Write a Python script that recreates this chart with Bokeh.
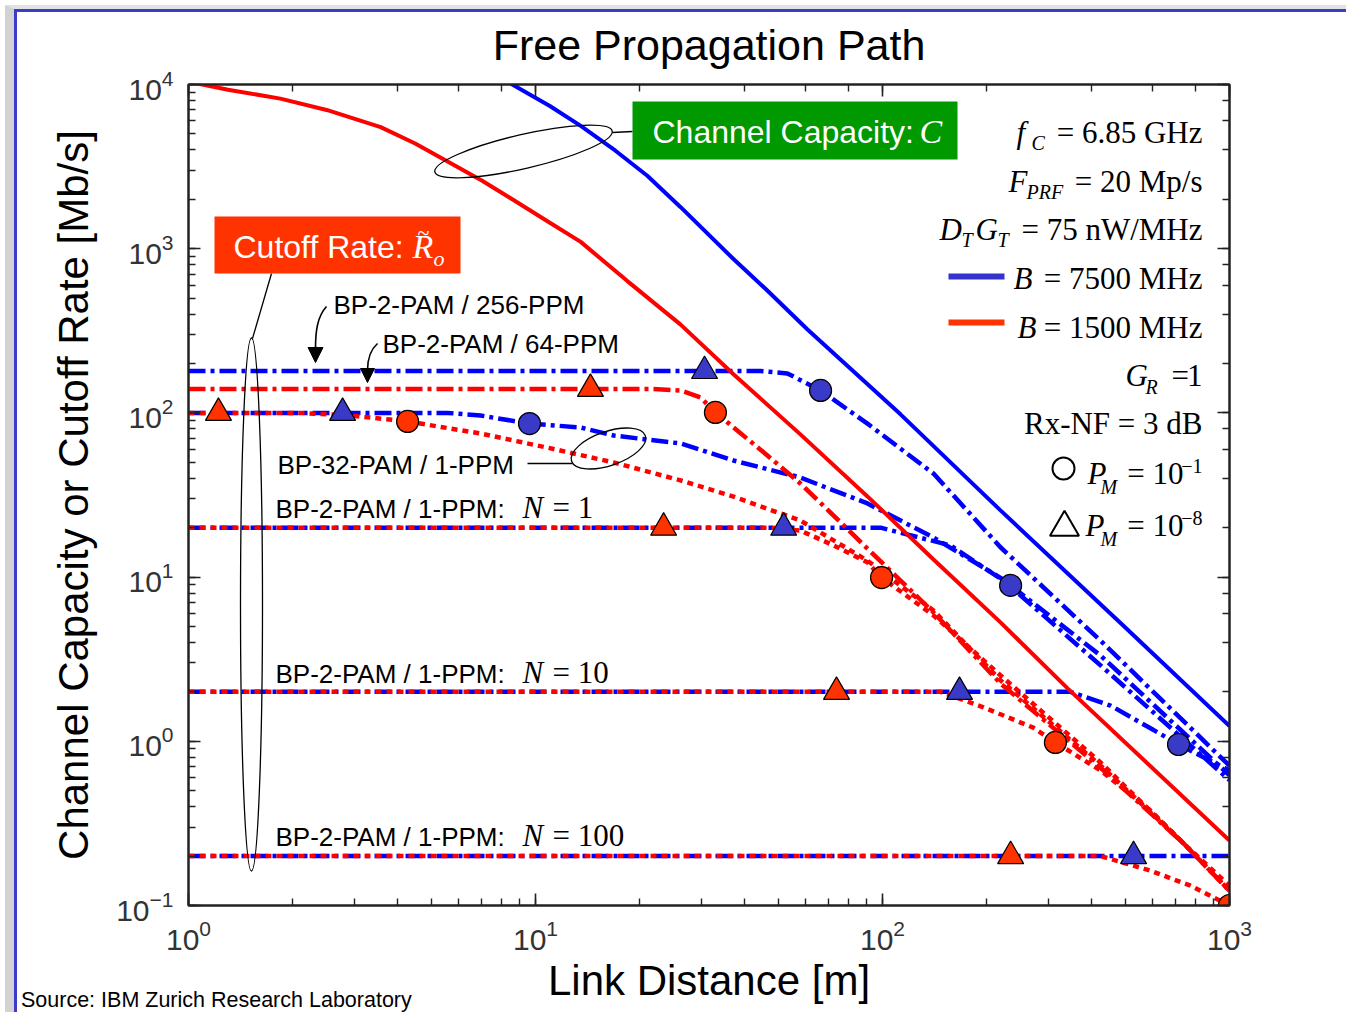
import math
from bokeh.plotting import figure
from bokeh.models import (Label, BoxAnnotation, LogAxis, LogTicker, Arrow, NormalHead, Range1d,
                          CustomJSTickFormatter, Div)
from bokeh.embed import file_html
from bokeh.resources import INLINE

# ---------------- data ----------------
# Channel capacity, B = 7500 MHz / 1500 MHz   (distance [m], rate [Mb/s])
cap_dist_7500 = [8.5, 11.0, 13.5, 17.0, 21.0, 26.2, 37.2, 46.0, 60.8, 112.7, 218.8, 500, 1000]
cap_rate_7500 = [10100, 7400, 5600, 3950, 2780, 1790, 865, 570, 322, 98, 25.5, 4.95, 1.24]
cap_dist_1500 = [1.0, 1.3, 1.84, 2.5, 3.58, 4.5, 5.58, 7.0, 8.64, 11.0, 13.5, 18.4, 26.2, 37.2, 58.0, 90.5,
                 140.3, 218.8, 341.5, 1000]
cap_rate_1500 = [10400, 9300, 8200, 7000, 5500, 4370, 3400, 2600, 1980, 1440, 1100, 635, 345, 172, 74, 31,
                 12.8, 5.3, 2.1, 0.249]

# Cutoff rate, B = 7500 MHz
b_256ppm_d = [1, 44.5, 53.2, 66.3, 90.5, 140.3, 218.8, 425, 1000]
b_256ppm_r = [180, 180, 174, 137, 86, 42.7, 15.2, 4.1, 0.71]
b_32pam_d = [1, 5.58, 6.94, 9.61, 13.5, 16.8, 26.2, 37.2, 58.0, 90.5, 140.3, 218.8, 425, 1000]
b_32pam_r = [100, 100, 96.4, 86.1, 81.5, 72.8, 65.1, 51.3, 40.4, 28.1, 17.4, 9.9, 2.9, 0.58]
b_n1_d = [1, 98.7, 157, 234, 425, 1000]
b_n1_r = [20, 20, 15.6, 8.9, 3.33, 0.62]
b_n10_d = [1, 348, 454, 592, 713, 1000]
b_n10_r = [2, 2, 1.65, 1.20, 0.956, 0.664]
b_n100_d = [1, 1000]
b_n100_r = [0.2, 0.2]

# Cutoff rate, B = 1500 MHz
r_64ppm_d = [1, 21.4, 26.2, 29.9, 33.0, 46.6, 58.0, 72.3, 90.5, 112.7, 140.3, 218.8, 425, 737, 1000]
r_64ppm_r = [140, 140, 137, 124, 100.6, 55.0, 37.2, 23.7, 14.9, 9.53, 6.09, 2.25, 0.69, 0.239, 0.123]
r_32pam_d = [1, 2.10, 2.93, 4.28, 6.94, 10.8, 16.8, 26.2, 37.2, 58.0, 90.5, 140.3, 218.8, 425, 737, 1000]
r_32pam_r = [100, 100, 96.4, 88.7, 74.9, 61.5, 49.9, 38.8, 30.9, 22.1, 12.6, 6.26, 2.35, 0.712, 0.239, 0.123]
r_n1_d = [1, 47.6, 58.0, 72.3, 90.5, 99.4, 140.3, 218.8, 425, 737, 1000]
r_n1_r = [20, 20, 19.2, 15.6, 12.3, 9.94, 5.84, 2.52, 0.743, 0.239, 0.123]
r_n10_d = [1, 147, 195.4, 272, 315, 425, 592, 737, 1000]
r_n10_r = [2, 2, 1.61, 1.21, 0.984, 0.664, 0.379, 0.239, 0.132]
r_n100_d = [1, 425, 592, 772, 1000]
r_n100_r = [0.2, 0.2, 0.163, 0.132, 0.1]

# Markers: triangle P_M = 1e-8, circle P_M = 1e-1
tri_blue_d = [30.7, 2.78, 51.9, 166.7, 529]
tri_blue_r = [180, 100, 20, 2, 0.2]
circ_blue_d = [66.3, 9.61, 234, 713]
circ_blue_r = [137, 86.1, 8.9, 0.956]
tri_red_d = [14.4, 1.22, 23.4, 73.7, 234]
tri_red_r = [140, 100, 20, 2, 0.2]
circ_red_d = [33.0, 4.28, 99.4, 315, 1000]
circ_red_r = [100.6, 88.7, 9.94, 0.984, 0.1]

# ---------------- layout helpers (pixel -> data for annotations) ----------------
FX0, FX1, FY0, FY1 = 188, 1229, 84, 905
def dx(px):
    return 10 ** ((px - FX0) / (FX1 - FX0) * 3)
def dy(py):
    return 10 ** (4 - (py - FY0) / (FY1 - FY0) * 5)

SANS = "Liberation Sans"
SERIF = "Liberation Serif"
BLUE = "#0000ff"
RED = "#ff0000"
MBLUE = "#3a3ac8"
MRED = "#ff3300"

p = figure(width=1346, height=1012, x_axis_type="log", y_axis_type="log",
           x_range=Range1d(1, 1000), y_range=Range1d(0.1, 10000),
           output_backend="svg", toolbar_location=None,
           min_border_left=FX0, min_border_right=1346 - FX1,
           min_border_top=FY0, min_border_bottom=1012 - FY1,
           background_fill_color="white", border_fill_color="white",
           outline_line_color="#222222", outline_line_width=2)
p.grid.visible = False
p.title.text = "Free Propagation Path"
p.title.align = "center"
p.title.text_font = SANS
p.title.text_font_size = "43px"
p.title.text_font_style = "normal"
p.title.text_color = "black"
p.title.standoff = 32

def style_axis(ax):
    ax.axis_line_color = "#222222"
    ax.axis_line_width = 2
    ax.major_tick_in = 12
    ax.major_tick_out = 0
    ax.minor_tick_in = 7
    ax.minor_tick_out = 0
    ax.major_tick_line_color = "#222222"
    ax.minor_tick_line_color = "#222222"
    ax.major_tick_line_width = 1.6
    ax.minor_tick_line_width = 1.4
    ax.major_label_text_font = SANS
    ax.major_label_text_color = "#333333"
    ax.major_label_text_font_size = "30px"

xb = p.below[0]
yl = p.left[0]
style_axis(xb)
style_axis(yl)
xb.major_label_standoff = 14
yl.major_label_standoff = 15
xb.axis_label = "Link Distance [m]"
yl.axis_label = "Channel Capacity or Cutoff Rate [Mb/s]"
for ax in (xb, yl):
    ax.axis_label_text_font = SANS
    ax.axis_label_text_font_size = "42px"
    ax.axis_label_text_font_style = "normal"
    ax.axis_label_text_color = "black"
xb.axis_label_standoff = 4
yl.axis_label_standoff = 16

blank = CustomJSTickFormatter(code="return ''")
xt = LogAxis(ticker=LogTicker(), formatter=blank)
yr = LogAxis(ticker=LogTicker(), formatter=blank)
style_axis(xt)
style_axis(yr)
xt.major_label_standoff = 0
p.add_layout(xt, "above")
p.add_layout(yr, "right")

# ---------------- curves ----------------
DD = "17 5 4 5"
DOT = "6 5"
lw = 4.5
p.line(b_n100_d, b_n100_r, line_color=BLUE, line_width=lw, line_dash=DD)
p.line(b_n10_d, b_n10_r, line_color=BLUE, line_width=lw, line_dash=DD)
p.line(b_n1_d, b_n1_r, line_color=BLUE, line_width=lw, line_dash=DD)
p.line(b_32pam_d, b_32pam_r, line_color=BLUE, line_width=lw, line_dash=DD)
p.line(b_256ppm_d, b_256ppm_r, line_color=BLUE, line_width=lw, line_dash=DD)
p.line(r_n100_d, r_n100_r, line_color=RED, line_width=lw, line_dash=DOT)
p.line(r_n10_d, r_n10_r, line_color=RED, line_width=lw, line_dash=DOT)
p.line(r_n1_d, r_n1_r, line_color=RED, line_width=lw, line_dash=DOT)
p.line(r_32pam_d, r_32pam_r, line_color=RED, line_width=lw, line_dash=DOT)
p.line(r_64ppm_d, r_64ppm_r, line_color=RED, line_width=lw, line_dash=DD)
p.line(cap_dist_1500, cap_rate_1500, line_color=RED, line_width=4)
p.line(cap_dist_7500, cap_rate_7500, line_color=BLUE, line_width=4)

p.scatter(tri_blue_d, tri_blue_r, marker="triangle", size=26, fill_color=MBLUE, line_color="black", line_width=1.2)
p.scatter(tri_red_d, tri_red_r, marker="triangle", size=26, fill_color=MRED, line_color="black", line_width=1.2)
p.scatter(circ_blue_d, circ_blue_r, marker="circle", size=22, fill_color=MBLUE, line_color="black", line_width=1.2)
p.scatter(circ_red_d, circ_red_r, marker="circle", size=22, fill_color=MRED, line_color="black", line_width=1.2)

# ---------------- annotations ----------------
BASE_SHIFT = 0.33   # alphabetic baseline correction (fraction of font size)
def lab(px, py, text, size, font=SANS, style="normal", color="black", align="left"):
    p.add_layout(Label(x=dx(px), y=dy(py - BASE_SHIFT * size), text=text, text_font=font,
                       text_font_size=f"{size}px", text_font_style=style,
                       text_color=color, text_align=align, text_baseline="alphabetic"))

# coloured boxes
p.add_layout(BoxAnnotation(left=dx(214), right=dx(460), top=dy(216), bottom=dy(273),
                           fill_color="#ff3300", fill_alpha=1, line_color=None))
p.add_layout(BoxAnnotation(left=dx(632), right=dx(957), top=dy(101), bottom=dy(159),
                           fill_color="#009900", fill_alpha=1, line_color=None))
lab(233, 257, "Cutoff Rate:", 32, color="white")
lab(412, 257, "R", 34, font=SERIF, style="italic", color="white")
lab(417, 239, "~", 22, font=SERIF, color="white")
lab(433, 265, "o", 22, font=SERIF, style="italic", color="white")
lab(652, 142, "Channel Capacity:", 32, color="white")
lab(919, 142, "C", 34, font=SERIF, style="italic", color="white")

# ellipses and leader lines
p.ellipse(x=[dx(523)], y=[dy(151)], width=182, height=34, angle=math.radians(13),
          width_units="screen", height_units="screen", fill_color=None, line_color="black", line_width=1.3)
p.line([dx(612), dx(632)], [dy(132), dy(131)], line_color="black", line_width=1.3)
p.ellipse(x=[dx(608)], y=[dy(448)], width=78, height=34, angle=math.radians(19),
          width_units="screen", height_units="screen", fill_color=None, line_color="black", line_width=1.3)
p.line([dx(527), dx(572)], [dy(463), dy(463)], line_color="black", line_width=1.3)
p.ellipse(x=[dx(251)], y=[dy(604)], width=22, height=533,
          width_units="screen", height_units="screen", fill_color=None, line_color="black", line_width=1.3)
p.line([dx(252), dx(271)], [dy(338), dy(273)], line_color="black", line_width=1.3)

# curve labels
lab(333, 313, "BP-2-PAM / 256-PPM", 26)
lab(382, 352, "BP-2-PAM / 64-PPM", 26)
lab(277, 473, "BP-32-PAM / 1-PPM", 26)
for base, nval in ((517, "1"), (682, "10"), (845, "100")):
    lab(275, base, "BP-2-PAM / 1-PPM:", 26)
    lab(522, base, "N", 31, font=SERIF, style="italic")
    lab(552, base, "= " + nval, 31, font=SERIF)

# curved arrows
p.bezier(x0=[dx(326), dx(377)], y0=[dy(306), dy(343)], x1=[dx(315), dx(367)], y1=[dy(348), dy(370)],
         cx0=[dx(317), dx(369)], cy0=[dy(316), dy(350)], cx1=[dx(315), dx(367)], cy1=[dy(330), dy(360)],
         line_color="black", line_width=1.6)
p.add_layout(Arrow(end=NormalHead(size=15, fill_color="black", line_color="black"),
                   x_start=dx(315), y_start=dy(346), x_end=dx(315), y_end=dy(362),
                   line_color="black", line_width=1.6))
p.add_layout(Arrow(end=NormalHead(size=14, fill_color="black", line_color="black"),
                   x_start=dx(367), y_start=dy(368), x_end=dx(367), y_end=dy(382),
                   line_color="black", line_width=1.6))

# parameter legend (right side)
FS = 31
SUB = 20
R_EDGE = 1202
lab(1016, 142, "f", FS, font=SERIF, style="italic")
lab(1031, 149, "C", SUB, font=SERIF, style="italic")
lab(R_EDGE, 142, "= 6.85 GHz", FS, font=SERIF, align="right")

lab(1008, 191, "F", FS, font=SERIF, style="italic")
lab(1026, 198, "PRF", SUB, font=SERIF, style="italic")
lab(R_EDGE, 191, "= 20 Mp/s", FS, font=SERIF, align="right")

lab(939, 239, "D", FS, font=SERIF, style="italic")
lab(961, 246, "T", SUB, font=SERIF, style="italic")
lab(975, 239, "G", FS, font=SERIF, style="italic")
lab(997, 246, "T", SUB, font=SERIF, style="italic")
lab(R_EDGE, 239, "= 75 nW/MHz", FS, font=SERIF, align="right")

p.line([dx(948), dx(1004)], [dy(276), dy(276)], line_color="#3333cc", line_width=6)
lab(1013, 288, "B", FS, font=SERIF, style="italic")
lab(R_EDGE, 288, "= 7500 MHz", FS, font=SERIF, align="right")

p.line([dx(948), dx(1004)], [dy(322), dy(322)], line_color="#ff3300", line_width=6)
lab(1017, 337, "B", FS, font=SERIF, style="italic")
lab(R_EDGE, 337, "= 1500 MHz", FS, font=SERIF, align="right")

lab(1125, 385, "G", FS, font=SERIF, style="italic")
lab(1145, 393, "R", SUB, font=SERIF, style="italic")
lab(1171, 385, "=", FS, font=SERIF)
lab(R_EDGE, 385, "1", FS, font=SERIF, align="right")

lab(R_EDGE, 433, "Rx-NF = 3 dB", FS, font=SERIF, align="right")

p.scatter([dx(1063)], [dy(468)], marker="circle", size=22, fill_color=None, line_color="black", line_width=2)
lab(1087, 483, "P", FS, font=SERIF, style="italic")
lab(1100, 493, "M", SUB, font=SERIF, style="italic")
lab(1183, 483, "= 10", FS, font=SERIF, align="right")
lab(R_EDGE, 472, "\u22121", SUB, font=SERIF, align="right")

p.scatter([dx(1064)], [dy(527)], marker="triangle", size=29, fill_color=None, line_color="black", line_width=2)
lab(1085, 535, "P", FS, font=SERIF, style="italic")
lab(1100, 545, "M", SUB, font=SERIF, style="italic")
lab(1183, 535, "= 10", FS, font=SERIF, align="right")
lab(R_EDGE, 524, "\u22128", SUB, font=SERIF, align="right")

# ---------------- page extras outside the plot frame ----------------
source = Div(text="Source: IBM Zurich Research Laboratory", width=440, height=26,
             styles={"position": "absolute", "left": "16px", "top": "983px",
                     "font-family": "Liberation Sans", "font-size": "21.5px", "color": "black",
                     "white-space": "nowrap", "z-index": "5", "line-height": "24px"})
edge1 = Div(text="", width=1346, height=1012,
            styles={"position": "absolute", "left": "0px", "top": "0px", "box-sizing": "border-box",
                    "border-left": "9px solid #d2d2d2", "border-top": "4px solid #e2e2e2",
                    "pointer-events": "none", "z-index": "4"})
edge2 = Div(text="", width=1337, height=1008,
            styles={"position": "absolute", "left": "9px", "top": "4px", "box-sizing": "border-box",
                    "border-left": "3px solid #3c3cc8", "border-top": "3px solid #3c3cc8",
                    "pointer-events": "none", "z-index": "4"})

open("out.html", "w").write(file_html([p, source, edge1, edge2], INLINE))
